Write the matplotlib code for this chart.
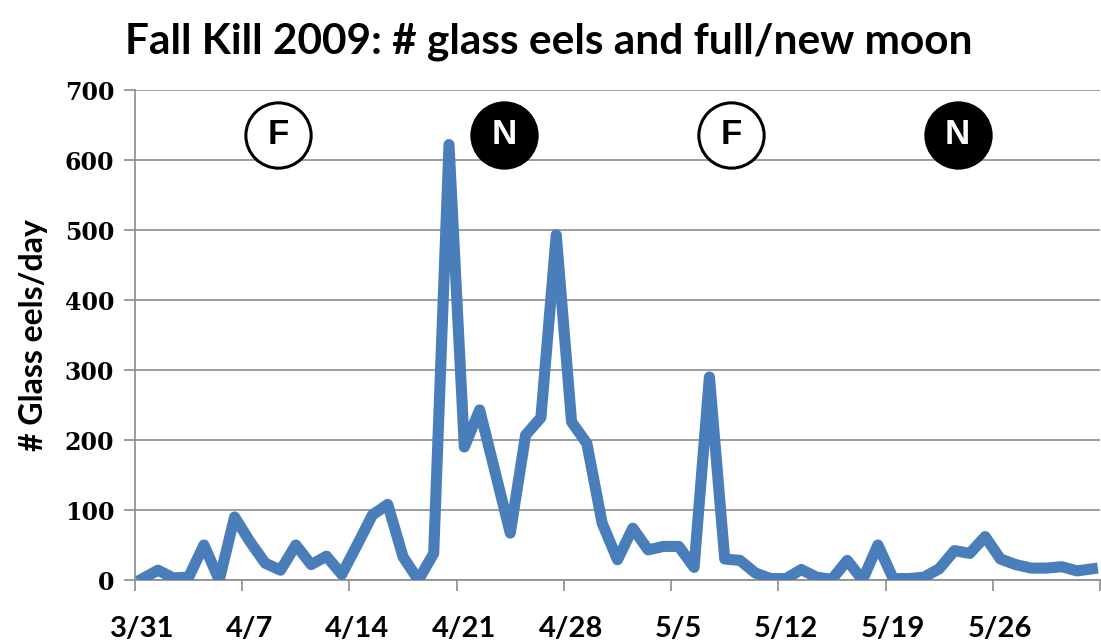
import matplotlib.pyplot as plt
import numpy as np
import pandas as pd

# daily counts, 3/31 .. 6/1 2009
dates = pd.date_range("2009-03-31", periods=63, freq="D")
eels = [2, 14, 3, 4, 50, 0, 90, 55, 24, 14,
        50, 22, 34, 8, 50, 93, 108, 33, 0, 38,
        622, 190, 243, 155, 67, 207, 232, 493, 226, 195,
        81, 29, 74, 43, 48, 48, 18, 290, 30, 28,
        10, 2, 2, 15, 4, 1, 28, 0, 50, 2,
        2, 4, 16, 42, 38, 62, 30, 22, 17, 17,
        19, 13, 16]
tick_every = 7

# moon phase markers (label, position in days from 3/31)
moon_labels = ["F", "N", "F", "N"]
moon_pos = [8.85, 23.6, 38.4, 53.2]
moon_y = 636

blue = "#4a7ebb"
grey = "#8c8c8c"

fig = plt.figure(figsize=(11.01, 6.42), dpi=100)
ax = fig.add_axes([135 / 1101, 1 - 580 / 642, 965 / 1101, 490 / 642])

x = np.arange(len(eels))
ax.plot(x, eels, color=blue, lw=8, solid_joinstyle="round", zorder=3)

ax.set_xlim(-0.5, len(eels) - 0.5)
ax.set_ylim(0, 700)
ax.set_yticks(np.arange(0, 701, 100))
ax.grid(axis="y", color=grey, lw=1.2)
ax.set_axisbelow(True)

for s in ["top", "right"]:
    ax.spines[s].set_visible(False)
for s in ["left", "bottom"]:
    ax.spines[s].set_color(grey)
    ax.spines[s].set_linewidth(1.2)

# tick marks between categories, labels on categories
ax.set_xticks(np.arange(-0.5, len(eels), tick_every))
ax.set_xticklabels([])
ax.tick_params(axis="x", which="major", length=8, color=grey, width=1.2)
lab_idx = np.arange(0, len(eels) - 1, tick_every)
ax.set_xticks(lab_idx, minor=True)
ax.set_xticklabels([f"{d.month}/{d.day}" for d in dates[lab_idx]], minor=True,
                   fontfamily="Lato", fontweight="bold", fontsize=21)
ax.tick_params(axis="x", which="minor", length=0, pad=26)

ax.tick_params(axis="y", length=8, color=grey, width=1.2, pad=7)
for t in ax.get_yticklabels():
    t.set_fontfamily("DejaVu Serif")
    t.set_fontweight("bold")
    t.set_fontsize(17)

ax.set_ylabel("# Glass eels/day", fontfamily="Lato", fontweight="bold",
              fontsize=23, labelpad=12)

for lab, px in zip(moon_labels, moon_pos):
    full = lab == "F"
    ax.plot(px, moon_y, "o", ms=47, mfc="white" if full else "black",
            mec="black", mew=2.2, zorder=4, clip_on=False)
    ax.text(px, moon_y, lab, ha="center", va="center", fontsize=25,
            fontfamily="Liberation Sans", fontweight="bold",
            color="black" if full else "white", zorder=5)

fig.text(125 / 1101, 1 - 42 / 642, "Fall Kill 2009: # glass eels and full/new moon",
         ha="left", va="center", fontfamily="Lato", fontweight="bold", fontsize=30.5)

fig.savefig("out.png", dpi=100)
